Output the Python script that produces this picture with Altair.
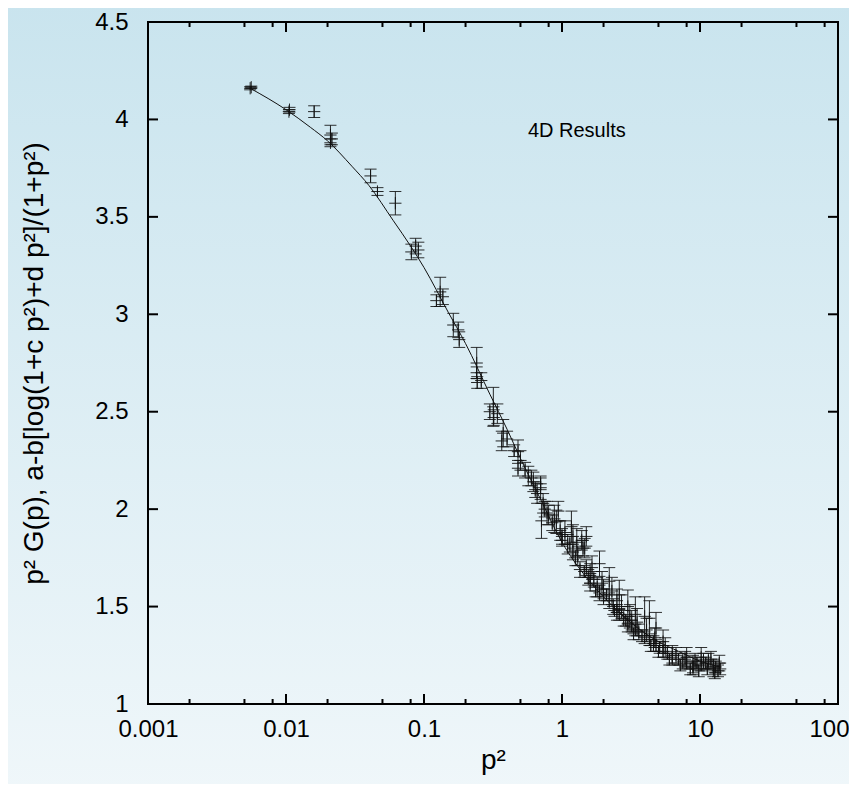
import altair as alt
import pandas as pd

# ---- fitted curve ----
curve_x = [0.0055, 0.01, 0.015, 0.02, 0.03, 0.04, 0.06, 0.08, 0.1, 0.15, 0.2,
           0.3, 0.4, 0.5, 0.7, 1.0, 1.5, 2.0, 3.0, 5.0, 7.0, 10.0, 14.0]
curve_y = [4.16, 4.05, 3.96, 3.89, 3.76, 3.66, 3.48, 3.35, 3.24, 3.01, 2.85,
           2.59, 2.41, 2.26, 2.05, 1.83, 1.65, 1.55, 1.43, 1.32, 1.27, 1.22, 1.19]

# ---- data points with error bars ----
pts_x = [0.0055, 0.0056, 0.0105, 0.0106, 0.016, 0.021, 0.021, 0.0215,
         0.041, 0.046, 0.062, 0.081, 0.087, 0.091, 0.123, 0.131, 0.137,
         0.163, 0.177, 0.18, 0.241, 0.241, 0.243, 0.26, 0.30, 0.318, 0.32, 0.34,
         0.366, 0.375, 0.40, 0.45, 0.48, 0.48, 0.50, 0.54, 0.57, 0.60, 0.62, 0.64,
         0.70, 0.70, 0.71, 0.73, 0.75, 0.80, 0.85, 0.91, 0.94, 0.97,
         1.0, 1.0, 1.1, 1.14, 1.17, 1.2, 1.2, 1.3, 1.35, 1.39, 1.42, 1.46,
         1.5, 1.5, 1.6, 1.6, 1.7, 1.8, 1.87, 1.87, 2.0, 2.0, 2.2, 2.2, 2.35,
         2.5, 2.5, 2.6, 2.6, 2.8, 3.0, 3.0, 3.2, 3.2, 3.4, 3.4, 3.6,
         3.97, 3.97, 4.3, 4.3, 4.6, 4.8, 4.8, 5.1, 5.4, 5.4, 5.8, 6.3, 6.3,
         7.0, 7.5, 8.0, 8.0, 8.9, 8.9, 9.5, 10.2, 10.2, 11.0, 11.5,
         12.5, 12.5, 13.0, 13.5, 14.0,
         0.66, 0.78, 0.88, 1.05, 1.25, 1.28, 1.45, 1.55, 1.65, 1.75, 1.95,
         2.1, 2.3, 2.4, 2.7, 2.9, 3.1, 3.3, 3.5, 3.8, 4.1, 4.4, 4.7, 5.0,
         5.6, 6.0, 6.7, 7.2, 7.8, 8.5, 9.2, 9.8, 10.6, 11.3, 12.0, 12.8, 13.8]
pts_y = [4.16, 4.165, 4.04, 4.05, 4.04, 3.92, 3.88, 3.90,
         3.71, 3.63, 3.57, 3.32, 3.35, 3.33, 3.07, 3.115, 3.09,
         2.945, 2.92, 2.87, 2.75, 2.70, 2.65, 2.66, 2.50, 2.525, 2.47, 2.49,
         2.35, 2.39, 2.36, 2.30, 2.295, 2.21, 2.25, 2.20, 2.17, 2.16, 2.14, 2.10,
         2.11, 2.13, 1.94, 2.03, 2.00, 1.97, 1.93, 1.935, 1.99, 1.89,
         1.86, 1.84, 1.82, 1.82, 1.91, 1.86, 1.78, 1.76, 1.69, 1.84, 1.80, 1.80,
         1.86, 1.70, 1.62, 1.67, 1.64, 1.60, 1.72, 1.57, 1.55, 1.59, 1.63, 1.53, 1.50,
         1.47, 1.53, 1.56, 1.46, 1.44, 1.50, 1.41, 1.40, 1.43, 1.46, 1.38, 1.37,
         1.45, 1.34, 1.44, 1.33, 1.31, 1.39, 1.30, 1.29, 1.32, 1.27, 1.26, 1.25, 1.24,
         1.23, 1.22, 1.24, 1.21, 1.20, 1.19, 1.21, 1.24, 1.20, 1.21, 1.22,
         1.18, 1.20, 1.19, 1.17, 1.18,
         2.08, 1.98, 1.95, 1.88, 1.75, 1.83, 1.68, 1.65, 1.70, 1.58, 1.62,
         1.56, 1.58, 1.48, 1.50, 1.43, 1.45, 1.36, 1.42, 1.35, 1.38, 1.30, 1.34, 1.27,
         1.29, 1.23, 1.25, 1.20, 1.23, 1.18, 1.22, 1.17, 1.22, 1.18, 1.23, 1.16, 1.21]
pts_err = [0.008, 0.006, 0.01, 0.012, 0.03, 0.05, 0.02, 0.03,
           0.035, 0.02, 0.06, 0.04, 0.04, 0.04, 0.03, 0.075, 0.04,
           0.06, 0.04, 0.04, 0.08, 0.03, 0.03, 0.04, 0.04, 0.10, 0.04, 0.05,
           0.05, 0.07, 0.04, 0.03, 0.06, 0.04, 0.05, 0.04, 0.05, 0.04, 0.05, 0.04,
           0.06, 0.03, 0.09, 0.05, 0.04, 0.05, 0.04, 0.06, 0.05, 0.05,
           0.04, 0.03, 0.05, 0.04, 0.08, 0.06, 0.04, 0.05, 0.04, 0.05, 0.04, 0.05,
           0.05, 0.04, 0.04, 0.05, 0.04, 0.05, 0.065, 0.04, 0.04, 0.05, 0.07, 0.04, 0.04,
           0.04, 0.06, 0.075, 0.03, 0.04, 0.085, 0.04, 0.03, 0.05, 0.09, 0.03, 0.04,
           0.10, 0.03, 0.09, 0.03, 0.04, 0.08, 0.03, 0.03, 0.06, 0.03, 0.03, 0.05, 0.03,
           0.03, 0.04, 0.05, 0.03, 0.05, 0.03, 0.03, 0.05, 0.03, 0.03, 0.04,
           0.04, 0.03, 0.03, 0.03, 0.03,
           0.05, 0.06, 0.07, 0.06, 0.04, 0.07, 0.03, 0.04, 0.06, 0.03, 0.06,
           0.03, 0.07, 0.03, 0.06, 0.03, 0.06, 0.03, 0.07, 0.03, 0.06, 0.03, 0.05, 0.03,
           0.05, 0.03, 0.04, 0.03, 0.04, 0.03, 0.04, 0.03, 0.04, 0.03, 0.04, 0.03, 0.04]
assert len(pts_x) == len(pts_y) == len(pts_err)

# ---- ticks ----
x_major = [0.001, 0.01, 0.1, 1, 10, 100]
x_minor = [0.002, 0.005, 0.008, 0.02, 0.05, 0.08, 0.2, 0.5, 0.8,
           2, 5, 8, 20, 50, 80]
y_major = [1, 1.5, 2, 2.5, 3, 3.5, 4, 4.5]

note_text = ["4D Results"]
note_x = [1.28]
note_y = [3.94]

W, H = 690, 682
FONT = "Liberation Sans"
INK = "#111111"

xs = alt.Scale(type="log", domain=[0.001, 100], nice=False)
ys = alt.Scale(domain=[1, 4.5], nice=False, zero=False)

X_AX = alt.Axis(values=x_major, format="~g", title="p²", domain=False, ticks=False,
                tickSize=0, grid=False, labelFontSize=24, labelFont=FONT,
                labelColor="black", labelPadding=13, labelFlush=False,
                labelOverlap=False, zindex=2,
                labelAlign={"condition": {"test": "datum.value >= 100", "value": "right"},
                            "value": "center"},
                labelOffset={"condition": {"test": "datum.value >= 100", "value": 11},
                             "value": 0},
                titleFont=FONT, titleFontSize=28, titleFontWeight="normal",
                titleColor="black", titlePadding=5)
Y_AX = alt.Axis(values=y_major, format="~g",
                title="p² G(p), a-b[log(1+c p²)+d p²]/(1+p²)",
                domain=False, ticks=False, tickSize=0, grid=False,
                labelFontSize=24, labelFont=FONT, labelColor="black",
                labelPadding=20, labelFlush=False, labelOverlap=False, zindex=2,
                titleFont=FONT, titleFontSize=28, titleFontWeight="normal",
                titleColor="black", titlePadding=46)

df_pts = pd.DataFrame({"x": pts_x, "y": pts_y, "e": pts_err})
df_pts["lo"] = df_pts["y"] - df_pts["e"]
df_pts["hi"] = df_pts["y"] + df_pts["e"]
df_curve = pd.DataFrame({"x": curve_x, "y": curve_y})

def X(f="x"):
    return alt.X(f"{f}:Q", scale=xs, axis=X_AX)

def Y(f="y"):
    return alt.Y(f"{f}:Q", scale=ys, axis=Y_AX)

bg = alt.Chart(pd.DataFrame({"k": [0]})).mark_rect(
    fill=alt.Gradient(gradient="linear",
                      stops=[alt.GradientStop(color="#c9e4ee", offset=0),
                             alt.GradientStop(color="#f0f7fa", offset=1)],
                      x1=0, x2=0, y1=0, y2=1),
    stroke=None,
).encode(x=alt.value(-150), x2=alt.value(W + 30), y=alt.value(-20), y2=alt.value(H + 100))

curve = alt.Chart(df_curve).mark_line(color=INK, strokeWidth=1, interpolate="monotone").encode(
    x=X(), y=Y())

bars = alt.Chart(df_pts).mark_rule(color=INK, strokeWidth=1, opacity=0.9).encode(
    x=X(), y=Y("lo"), y2="hi:Q")
cap_lo = alt.Chart(df_pts).mark_tick(orient="horizontal", size=12, thickness=1,
                                     color=INK, opacity=0.85).encode(x=X(), y=Y("lo"))
cap_hi = alt.Chart(df_pts).mark_tick(orient="horizontal", size=12, thickness=1,
                                     color=INK, opacity=0.85).encode(x=X(), y=Y("hi"))
centers = alt.Chart(df_pts).mark_point(shape="M-1,0L1,0M0,-1L0,1", size=150,
                                       filled=False, strokeWidth=1, color=INK,
                                       opacity=0.9).encode(x=X(), y=Y())

df_xmaj = pd.DataFrame({"x": x_major})
df_xmin = pd.DataFrame({"x": x_minor})
df_ymaj = pd.DataFrame({"y": y_major})

tick_layers = []
for df, ln in [(df_xmaj, 10), (df_xmin, 5)]:
    tick_layers.append(alt.Chart(df).mark_rule(color="black", strokeWidth=2).encode(
        x=X(), y=alt.value(H), y2=alt.value(H - ln)))
    tick_layers.append(alt.Chart(df).mark_rule(color="black", strokeWidth=2).encode(
        x=X(), y=alt.value(0), y2=alt.value(ln)))
tick_layers.append(alt.Chart(df_ymaj).mark_rule(color="black", strokeWidth=2).encode(
    y=Y(), x=alt.value(0), x2=alt.value(10)))
tick_layers.append(alt.Chart(df_ymaj).mark_rule(color="black", strokeWidth=2).encode(
    y=Y(), x=alt.value(W), x2=alt.value(W - 10)))

frame = alt.Chart(pd.DataFrame({"k": [0]})).mark_rect(
    filled=False, stroke="black", strokeWidth=2, fill=None).encode(
    x=alt.value(0), x2=alt.value(W), y=alt.value(0), y2=alt.value(H))

note = alt.Chart(pd.DataFrame({"x": note_x, "y": note_y, "t": note_text})).mark_text(
    font=FONT, fontSize=20, color="black", align="center", baseline="middle").encode(
    x=X(), y=Y(), text="t:N")

chart = alt.layer(bg, curve, bars, cap_lo, cap_hi, centers, *tick_layers, frame, note).properties(
    width=W, height=H,
    autosize=alt.AutoSizeParams(type="none"),
    padding={"left": 140, "top": 14, "right": 11, "bottom": 80},
).configure(background="#e2f0f5").configure_view(stroke=None)

chart.save("out.html", embed_options={"renderer": "svg", "actions": False})
